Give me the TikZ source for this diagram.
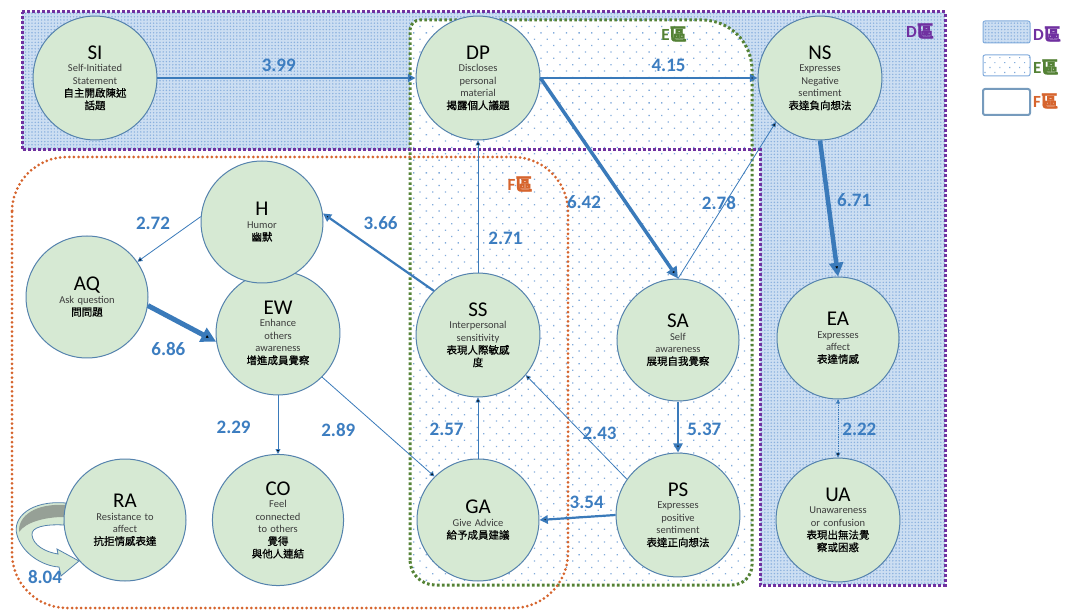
\documentclass[tikz,border=0pt]{standalone}
\usepackage{fontspec}
\setmainfont{Carlito}
\newfontfamily\cjk{Noto Sans CJK TC}[FakeBold=0.6]
\newfontfamily\cjkb{Noto Sans CJK TC}[FakeBold=1.1]
\usetikzlibrary{arrows.meta,patterns.meta}

\definecolor{nodefill}{RGB}{214,233,211}
\definecolor{nodeline}{RGB}{84,130,173}
\definecolor{linkblue}{RGB}{58,122,186}
\definecolor{wtblue}{RGB}{60,125,192}
\definecolor{subgray}{RGB}{60,60,60}
\definecolor{dpurple}{RGB}{112,48,160}
\definecolor{egreen}{RGB}{84,130,53}
\definecolor{forange}{RGB}{214,100,45}
\definecolor{dfill}{RGB}{204,222,242}
\definecolor{dwave}{RGB}{138,176,222}
\definecolor{edot}{RGB}{130,172,220}
\definecolor{ribbon}{RGB}{150,160,150}

\newcommand{\ctxt}[3]{%
  {\fontsize{21}{24}\selectfont #1\par}%
  {\fontsize{10.5}{12.5}\selectfont\color{subgray}#2\par}%
  {\cjk\fontsize{10.5}{12.5}\selectfont #3\par}}

\tikzset{
  cat/.style={circle,draw=nodeline,fill=nodefill,line width=1pt,
    minimum size=122pt,inner sep=0pt,text width=106pt,align=center},
  link/.style={->,draw=linkblue},
  wt/.style={font=\fontsize{19}{21}\selectfont\bfseries,text=wtblue,inner sep=1pt},
  zone/.style={line width=3pt,line cap=round,dash pattern=on 0pt off 4.6pt},
  zonelab/.style={font=\fontsize{17}{19}\selectfont\bfseries,inner sep=0pt}
}

\begin{document}
\begin{tikzpicture}[x=1pt,y=-1pt,>={Triangle[length=3pt 2.4,width=3pt 2.4]},node distance=200pt]
\useasboundingbox (0,0) rectangle (1074,612);
\fill[white] (0,0) rectangle (1074,612);

% zones
\path[preaction={fill=dfill},pattern={Dots[distance=3.2pt,radius=.8pt]},pattern color=dwave]
  (22,12) -- (945,12) -- (945,585) -- (760,585) -- (760,150) -- (22,150) -- cycle;
\draw[zone,draw=egreen,line cap=butt,dash pattern=on 2.6pt off 2.4pt,preaction={fill=white},
  pattern={Dots[distance=9pt,angle=45,radius=.9pt]},pattern color=edot]
  (410,560) -- (410,30) arc[start angle=180,end angle=90,radius=10pt]
  -- (702,20) arc[start angle=90,end angle=0,radius=50pt]
  -- (752,565) arc[start angle=0,end angle=-90,radius=20pt]
  -- (435,585) arc[start angle=270,end angle=180,radius=25pt] -- cycle;
\draw[zone,draw=dpurple,line cap=butt,dash pattern=on 2.6pt off 2.4pt]
  (22,12) -- (945,12) -- (945,585) -- (760,585) -- (760,150) -- (22,150) -- cycle;
\draw[zone,draw=forange,rounded corners=55pt] (12,157) rectangle (568,608);
\node[zonelab,text=dpurple] (dlab) at (920,31) {D\cjkb 區};
\node[zonelab,text=egreen] (elab) at (674,34) {E\cjkb 區};
\node[zonelab,text=forange] (flab) at (520,184) {F\cjkb 區};

% legend
\draw[draw=edot,line width=1pt,rounded corners=2pt,preaction={fill=dfill},
  pattern={Dots[distance=3.2pt,radius=.8pt]},pattern color=dwave] (983,21) rectangle (1030,43);
\draw[draw=edot,line width=1pt,rounded corners=2pt,preaction={fill=white},
  pattern={Dots[distance=7pt,angle=45,radius=.8pt]},pattern color=edot] (983,55) rectangle (1030,76);
\draw[draw=nodeline!80,line width=2pt,rounded corners=2pt] (983,89) rectangle (1030,115);
\node[zonelab,text=dpurple,anchor=west] (dkey) at (1033,34) {D\cjkb 區};
\node[zonelab,text=egreen,anchor=west] (ekey) at (1033,67) {E\cjkb 區};
\node[zonelab,text=forange,anchor=west] (fkey) at (1033,101) {F\cjkb 區};

% RA loop
\filldraw[fill=nodefill,draw=nodeline,line width=.8pt]
  (66,503) .. controls (30,500) and (12,518) .. (17,535)
  .. controls (22,553) and (42,566) .. (59,567)
  -- (61,576) -- (79,561) -- (57,549) -- (58,554)
  .. controls (45,552) and (33,545) .. (32,535)
  .. controls (31,527) and (45,524) .. (64,525) -- cycle;
\fill[ribbon] (66,505) .. controls (35,503) and (18,516) .. (19,532)
  .. controls (26,522) and (45,517) .. (64,517) -- cycle;
\node[wt] (loopwt) at (45,577) {8.04};

% categories
\node[cat] (SS) at (478,335) {\ctxt{SS}{Interpersonal\\sensitivity}{表現人際敏感\\度}};
\node[cat] (SA) [right of=SS,yshift=-5pt] {\ctxt{SA}{Self\\awareness}{展現自我覺察}};
\node[cat] (EW) [left of=SS,yshift=2pt] {\ctxt{EW}{Enhance\\others\\awareness}{增進成員覺察}};
\node[cat] (DP) [above of=SS,node distance=257pt] {\ctxt{DP}{Discloses\\personal\\material}{揭露個人議題}};
\node[cat] (SI) [left of=DP,node distance=383pt] {\ctxt{SI}{Self-Initiated\\Statement}{自主開啟陳述\\話題}};
\node[cat] (NS) [right of=DP,node distance=342pt] {\ctxt{NS}{Expresses\\Negative\\sentiment}{表達負向想法}};
\node[cat] (GA) [below of=SS,node distance=185pt] {\ctxt{GA}{Give Advice}{給予成員建議}};
\node[cat] (PS) [right of=GA,yshift=5pt] {\ctxt{PS}{Expresses\\positive\\sentiment}{表達正向想法}};
\node[cat] (CO) [left of=GA] {\ctxt{CO}{Feel\\connected\\to others}{覺得\\與他人連結}};
\node[cat] (RA) [left of=CO,node distance=153pt] {\ctxt{RA}{Resistance to\\affect}{抗拒情感表達}};
\node[cat] (UA) [right of=PS,node distance=160pt,yshift=-5pt] {\ctxt{UA}{Unawareness\\or confusion}{表現出無法覺\\察或困惑}};
\node[cat] (EA) [above of=UA,node distance=182pt] {\ctxt{EA}{Expresses\\affect}{表達情感}};
\node[cat] (H) [above of=EW,node distance=111pt,xshift=-16pt] {\ctxt{H}{Humor}{幽默}};
\node[cat] (AQ) [left of=EW,node distance=191pt,yshift=36pt] {\ctxt{AQ}{Ask question}{問問題}};

% links
\path[link]
  (SI.east) edge[line width=2pt] node[wt,above=4pt,pos=.47] {3.99} (DP.west)
  (DP.east) edge[line width=2pt] node[wt,above=4pt,pos=.59] {4.15} (NS.west)
  (DP.east) edge[line width=3.5pt] node[wt,left=22pt,pos=.62] {6.42} (SA.north)
  (NS.south) edge[line width=4.5pt] node[wt,right=6pt,pos=.44] {6.71} (EA.north)
  (SA.north) edge[line width=.8pt] node[wt,xshift=-6pt,pos=.48] {2.78} (NS.225)
  (SS.north) edge[line width=.8pt] node[wt,right=9pt,pos=.26] {2.71} (DP.south)
  (SS.135) edge[line width=2.2pt] node[wt,above=22pt,pos=.48] {3.66} (H.8)
  (H.175) edge[line width=.8pt] node[wt,above left=4pt,pos=.4] {2.72} (AQ.35)
  (AQ.-8) edge[line width=5pt] node[wt,below=22pt,pos=.3] {6.86} (EW.188)
  (EW.south) edge[line width=.8pt] node[wt,left=26pt,pos=.55] {2.29} (CO.north)
  (EW.-45) edge[line width=.8pt] node[wt,left=25pt,pos=.53] {2.89} (GA.135)
  (GA.north) edge[line width=.8pt] node[wt,left=13pt,pos=.47] {2.57} (SS.south)
  (PS.145) edge[line width=.8pt] node[wt,above=10pt,pos=.27] {2.43} (SS.-40)
  (SA.south) edge[line width=2.6pt] node[wt,right=7pt,pos=.55] {5.37} (PS.north)
  (PS.west) edge[line width=2.2pt] node[wt,above=6pt,pos=.38] {3.54} (GA.east)
  (EA.south) edge[line width=.8pt,densely dotted] node[wt,right=3pt,pos=.52] {2.22} (UA.north);
\end{tikzpicture}
\end{document}
